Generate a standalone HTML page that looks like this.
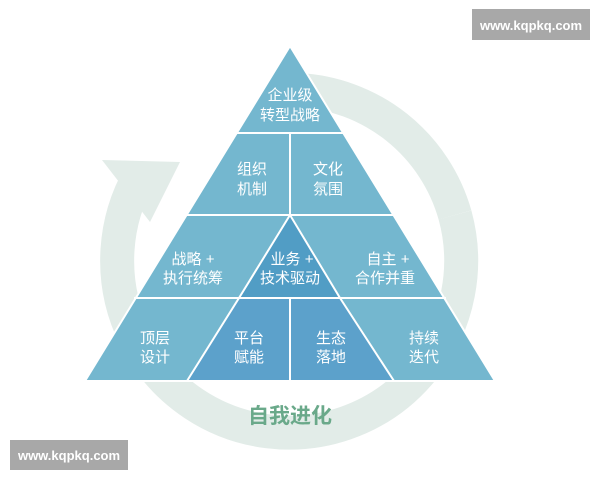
<!DOCTYPE html>
<html><head><meta charset="utf-8"><style>
html,body{margin:0;padding:0;background:#fff;width:600px;height:480px;overflow:hidden}
svg{display:block}
text{font-family:"Liberation Sans","Noto Sans CJK SC",sans-serif}
</style></head><body>
<svg width="600" height="480" viewBox="0 0 600 480">
<path d="M 455 215 A 172 172 0 1 1 140 175" fill="none" stroke="#e2ece8" stroke-width="34"/>
<path d="M 298 90 A 172 172 0 0 1 455 215" fill="none" stroke="#e2ece8" stroke-width="34"/>
<polygon points="102,160 180,162 150,222" fill="#e2ece8"/>
<g stroke="#fff" stroke-width="2">
<polygon points="290,46 85,381 495,381" fill="#74b7cf"/>
<polygon points="290,215 239,298 340,298" fill="#519dc5"/>
<polygon points="239,298 340,298 394,381 187,381" fill="#5ca1cb"/>
<line x1="236" y1="133" x2="344" y2="133"/>
<line x1="185" y1="215" x2="395" y2="215"/>
<line x1="134" y1="298" x2="446" y2="298"/>
<line x1="290" y1="133" x2="290" y2="215"/>
<line x1="290" y1="298" x2="290" y2="381"/>
</g>
<g fill="#fff" font-size="15" text-anchor="middle">
<text x="290" y="100">企业级</text><text x="290" y="120">转型战略</text>
<text x="252" y="174">组织</text><text x="252" y="194">机制</text>
<text x="328" y="174">文化</text><text x="328" y="194">氛围</text>
<text x="193" y="264">战略 +</text><text x="193" y="283">执行统筹</text>
<text x="292" y="264">业务 +</text><text x="290" y="283">技术驱动</text>
<text x="388" y="264">自主 +</text><text x="385" y="283">合作并重</text>
<text x="155" y="343">顶层</text><text x="155" y="362">设计</text>
<text x="249" y="343">平台</text><text x="249" y="362">赋能</text>
<text x="331" y="343">生态</text><text x="331" y="362">落地</text>
<text x="424" y="343">持续</text><text x="424" y="362">迭代</text>
</g>
<text x="290" y="423" text-anchor="middle" font-size="21" font-weight="bold" fill="#6aa98a">自我进化</text>
<rect x="472" y="9" width="118" height="31" fill="#a8a8a8"/>
<text x="531" y="30" text-anchor="middle" font-size="13" font-weight="bold" fill="#fff">www.kqpkq.com</text>
<rect x="10" y="440" width="118" height="30" fill="#a8a8a8"/>
<text x="69" y="460" text-anchor="middle" font-size="13" font-weight="bold" fill="#fff">www.kqpkq.com</text>
</svg>
</body></html>
